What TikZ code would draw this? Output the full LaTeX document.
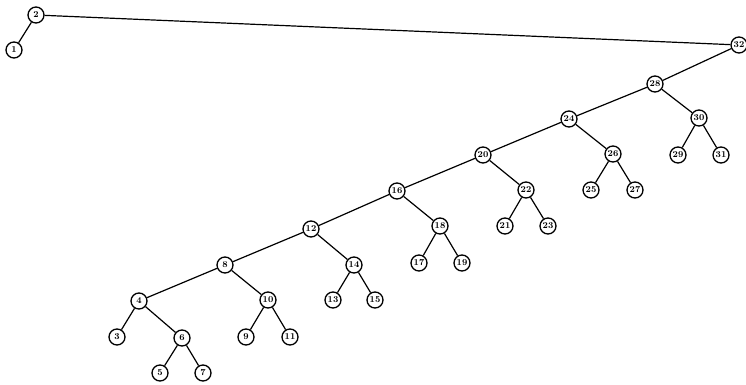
\documentclass[tikz,border=0pt]{standalone}
\begin{document}
\begin{tikzpicture}[x=1pt,y=-1pt,
  tn/.style={circle,draw,line width=1.3pt,minimum size=16pt,inner sep=0pt,font=\fontsize{9}{9}\selectfont\bfseries,fill=white},
  ed/.style={line width=1.2pt}]
\useasboundingbox (0,0) rectangle (746,385);
\node[tn] (n2) at (36,15) {2};
\node[tn] (n1) at (14,50) {1};
\node[tn] (n32) at (739,45) {32};
\node[tn] (n28) at (655,84) {28};
\node[tn] (n30) at (699,118) {30};
\node[tn] (n29) at (678,155) {29};
\node[tn] (n31) at (721,155) {31};
\node[tn] (n24) at (569,119) {24};
\node[tn] (n26) at (613,154) {26};
\node[tn] (n25) at (591,190) {25};
\node[tn] (n27) at (635,190) {27};
\node[tn] (n20) at (483,155) {20};
\node[tn] (n22) at (526,190) {22};
\node[tn] (n21) at (505,226) {21};
\node[tn] (n23) at (548,226) {23};
\node[tn] (n16) at (397,191) {16};
\node[tn] (n18) at (440,226) {18};
\node[tn] (n17) at (419,263) {17};
\node[tn] (n19) at (462,263) {19};
\node[tn] (n12) at (311,229) {12};
\node[tn] (n14) at (354,265) {14};
\node[tn] (n13) at (333,300) {13};
\node[tn] (n15) at (375,300) {15};
\node[tn] (n8) at (225,265) {8};
\node[tn] (n10) at (268,300) {10};
\node[tn] (n9) at (246,337) {9};
\node[tn] (n11) at (290,337) {11};
\node[tn] (n4) at (139,301) {4};
\node[tn] (n6) at (182,338) {6};
\node[tn] (n3) at (117,337) {3};
\node[tn] (n5) at (160,373) {5};
\node[tn] (n7) at (203,373) {7};
\draw[ed] (n2) -- (n1);
\draw[ed] (n2) -- (n32);
\draw[ed] (n32) -- (n28);
\draw[ed] (n28) -- (n30);
\draw[ed] (n30) -- (n29);
\draw[ed] (n30) -- (n31);
\draw[ed] (n28) -- (n24);
\draw[ed] (n24) -- (n26);
\draw[ed] (n26) -- (n25);
\draw[ed] (n26) -- (n27);
\draw[ed] (n24) -- (n20);
\draw[ed] (n20) -- (n22);
\draw[ed] (n22) -- (n21);
\draw[ed] (n22) -- (n23);
\draw[ed] (n20) -- (n16);
\draw[ed] (n16) -- (n18);
\draw[ed] (n18) -- (n17);
\draw[ed] (n18) -- (n19);
\draw[ed] (n16) -- (n12);
\draw[ed] (n12) -- (n14);
\draw[ed] (n14) -- (n13);
\draw[ed] (n14) -- (n15);
\draw[ed] (n12) -- (n8);
\draw[ed] (n8) -- (n10);
\draw[ed] (n10) -- (n9);
\draw[ed] (n10) -- (n11);
\draw[ed] (n8) -- (n4);
\draw[ed] (n4) -- (n6);
\draw[ed] (n6) -- (n5);
\draw[ed] (n6) -- (n7);
\draw[ed] (n4) -- (n3);
\end{tikzpicture}
\end{document}
